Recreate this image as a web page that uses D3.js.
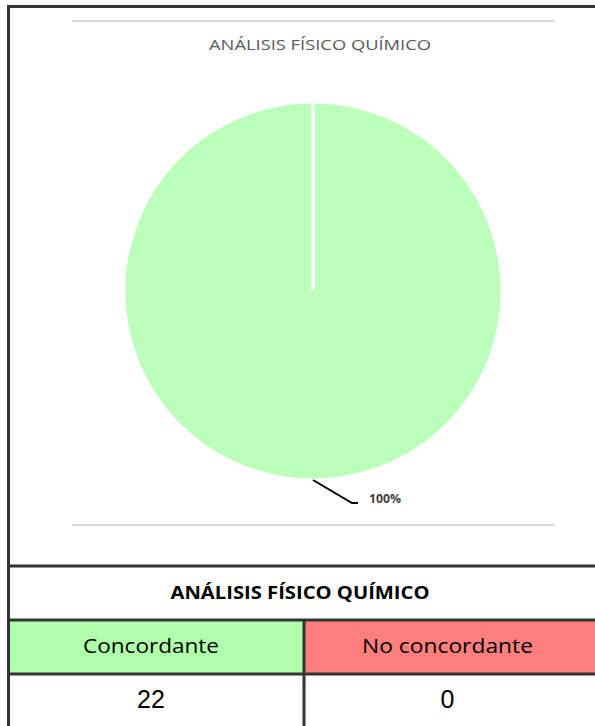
<!DOCTYPE html>
<html><head><meta charset="utf-8">
<script src="https://cdn.jsdelivr.net/npm/d3@7"></script>
<style>html,body{margin:0;padding:0;background:#fff}svg{display:block}</style>
</head><body>
<script>
const chartTitle = "ANÁLISIS FÍSICO QUÍMICO";
const categories = ["Concordante", "No concordante"];
const values = [22, 0];
const sliceColors = ["#bbffbb", "#ff8080"];
const cellColors = ["#b0ffaa", "#ff7f7f"];

const W = 595, H = 726;
const svg = d3.select("body").append("svg").attr("width", W).attr("height", H);
const FONT = "'Open Sans', Lato, sans-serif";

// Chart area
const cx = 313, cy = 291, R = 189;
svg.append("line").attr("x1", 72).attr("x2", 555).attr("y1", 21).attr("y2", 21)
  .attr("stroke", "#d9d9d9").attr("stroke-width", 2);
svg.append("line").attr("x1", 72).attr("x2", 555).attr("y1", 525).attr("y2", 525)
  .attr("stroke", "#d9d9d9").attr("stroke-width", 2);

svg.append("text").attr("x", 320).attr("y", 50).attr("text-anchor", "middle")
  .attr("font-family", FONT).attr("font-size", 14)
  .attr("textLength", 222).attr("lengthAdjust", "spacingAndGlyphs")
  .attr("fill", "#595959").text(chartTitle);

const pie = d3.pie().sort(null).value(d => d)(values);
const arc = d3.arc().innerRadius(0).outerRadius(R);
const g = svg.append("g").attr("transform", `translate(${cx},${cy})`);
g.selectAll("path").data(pie).join("path")
  .attr("d", arc).attr("fill", (d, i) => sliceColors[i])
  .attr("stroke", "#fff").attr("stroke-width", 3).attr("stroke-linejoin", "miter");

const total = d3.sum(values);
pie.filter(d => d.value > 0).forEach(d => {
  const a = (d.startAngle + d.endAngle) / 2;
  const x0 = Math.sin(a) * R, y0 = -Math.cos(a) * R;
  const x1 = x0 + 39, y1 = y0 + 23, x2 = x1 + 6;
  g.append("polyline").attr("points", `${x0},${y0} ${x1},${y1} ${x2},${y1}`)
    .attr("fill", "none").attr("stroke", "#000").attr("stroke-width", 2);
  g.append("text").attr("x", x2 + 11).attr("y", y1 - 3).attr("dominant-baseline", "middle")
    .attr("font-family", FONT).attr("font-weight", "bold")
    .attr("font-size", 13).attr("textLength", 32).attr("lengthAdjust", "spacingAndGlyphs")
    .attr("fill", "#404040")
    .text(d3.format(".0%")(d.value / total));
});

// Table
const tL = 8, tR = 600, colX = 304;
const rows = [566, 620, 674, 726];
categories.forEach((c, i) => {
  const x0 = i === 0 ? tL : colX, x1 = i === 0 ? colX : tR;
  svg.append("rect").attr("x", x0).attr("y", rows[1]).attr("width", x1 - x0).attr("height", rows[2] - rows[1])
    .attr("fill", cellColors[i]);
});
svg.append("text").attr("x", 300).attr("y", (rows[0] + rows[1]) / 2 + 1).attr("text-anchor", "middle")
  .attr("dominant-baseline", "middle").attr("font-family", FONT)
  .attr("font-weight", "bold").attr("font-size", 17.5)
  .attr("textLength", 259).attr("lengthAdjust", "spacingAndGlyphs")
  .attr("fill", "#000").text(chartTitle);
const centers = [151, 447.5];
const catWidths = [136, 171];
categories.forEach((c, i) => {
  svg.append("text").attr("x", centers[i]).attr("y", (rows[1] + rows[2]) / 2 + 1).attr("text-anchor", "middle")
    .attr("dominant-baseline", "middle").attr("font-family", FONT)
    .attr("font-size", 20).attr("textLength", catWidths[i]).attr("lengthAdjust", "spacingAndGlyphs")
    .attr("fill", "#000").text(c);
  svg.append("text").attr("x", centers[i]).attr("y", (rows[2] + rows[3]) / 2 + 1).attr("text-anchor", "middle")
    .attr("dominant-baseline", "middle").attr("font-family", "'Liberation Sans', Arial, sans-serif")
    .attr("font-size", 25).attr("fill", "#000").text(values[i]);
});
const dark = "#333";
[rows[0], rows[1], rows[2]].forEach(y => {
  svg.append("line").attr("x1", tL).attr("x2", W).attr("y1", y).attr("y2", y)
    .attr("stroke", dark).attr("stroke-width", 3);
});
svg.append("line").attr("x1", colX).attr("x2", colX).attr("y1", rows[1]).attr("y2", H)
  .attr("stroke", dark).attr("stroke-width", 3);
svg.append("line").attr("x1", 8.5).attr("x2", 8.5).attr("y1", 5).attr("y2", H)
  .attr("stroke", dark).attr("stroke-width", 3);
svg.append("line").attr("x1", 7).attr("x2", W).attr("y1", 6.5).attr("y2", 6.5)
  .attr("stroke", dark).attr("stroke-width", 3);
</script>
</body></html>
